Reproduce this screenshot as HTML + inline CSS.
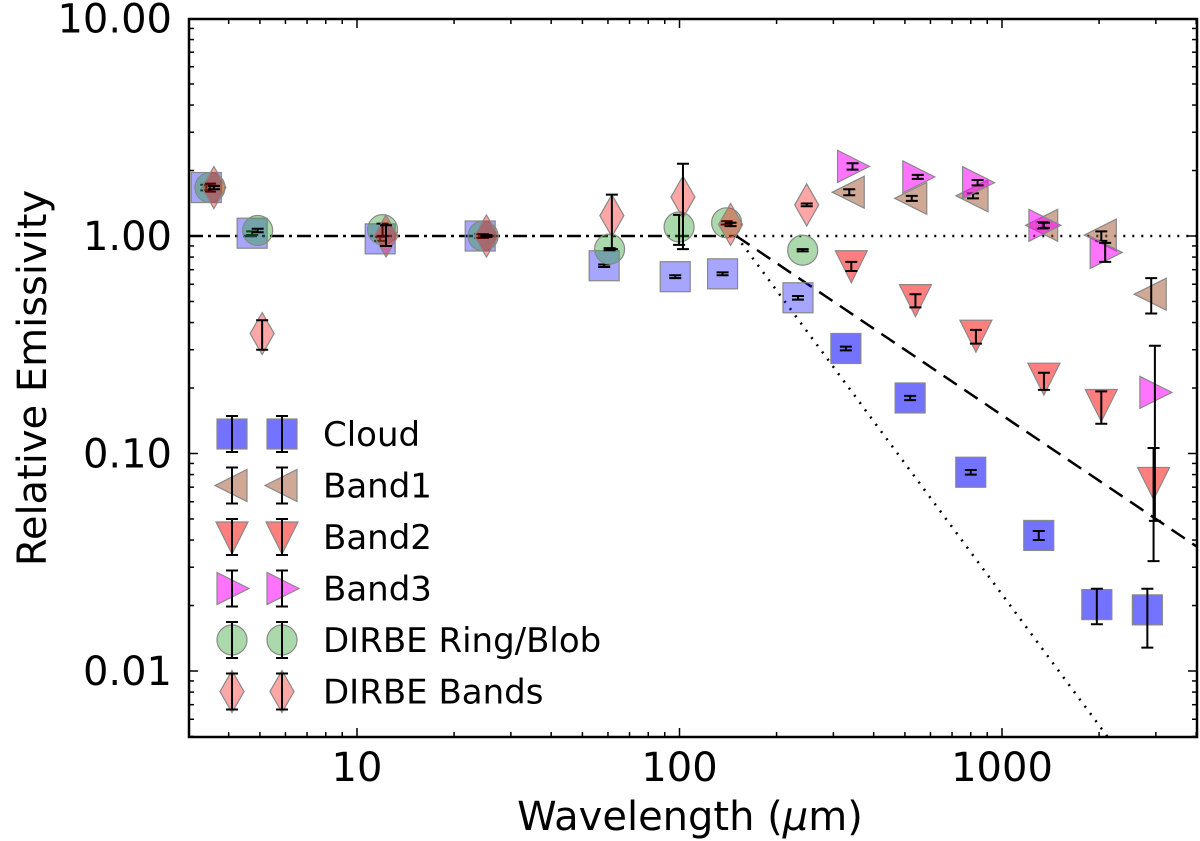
<!DOCTYPE html>
<html><head><meta charset="utf-8"><style>
body{margin:0;background:#fff;}
svg{display:block;font-family:"DejaVu Sans","Liberation Sans",sans-serif;}
</style></head><body>
<svg id="c" width="1200" height="841" xmlns="http://www.w3.org/2000/svg"></svg>
<script>
// ---- data ----
const cloudX=[3.41,4.73,11.8,24.1,58.4,97,136,233,328,519,800,1300,1968,2823];
const cloudY=[1.67,1.03,0.97,1.00,0.73,0.65,0.67,0.52,0.304,0.180,0.082,0.042,0.0202,0.0191];
const cloudLo=[1.62,1.01,0.95,0.98,0.72,0.64,0.66,0.51,0.298,0.176,0.080,0.040,0.0164,0.0128];
const cloudHi=[1.72,1.05,0.99,1.02,0.74,0.66,0.68,0.53,0.310,0.184,0.084,0.044,0.0239,0.0239];
const band1X=[336,525,813,1337,2032,2902];
const band1Y=[1.59,1.49,1.53,1.12,1.01,0.54];
const band1Lo=[1.54,1.45,1.49,1.08,0.95,0.44];
const band1Hi=[1.64,1.53,1.57,1.16,1.05,0.64];
const band2X=[341,539,830,1349,2032,2951];
const band2Y=[0.73,0.51,0.35,0.222,0.168,0.0736];
const band2Lo=[0.69,0.47,0.32,0.196,0.137,0.032];
const band2Hi=[0.76,0.54,0.37,0.235,0.193,0.106];
const band3X=[344,548,840,1349,2089,2979];
const band3Y=[2.09,1.87,1.76,1.12,0.84,0.191];
const band3Lo=[2.02,1.83,1.71,1.09,0.76,0.049];
const band3Hi=[2.16,1.91,1.81,1.15,0.93,0.313];
const ringX=[3.50,4.92,12.0,24.6,60.7,99.7,140,241];
const ringY=[1.67,1.06,1.07,1.00,0.87,1.10,1.15,0.86];
const ringLo=[1.60,1.04,1.00,0.98,0.86,0.91,1.13,0.85];
const ringHi=[1.74,1.08,1.14,1.02,0.88,1.25,1.17,0.87];
const bandsX=[3.60,5.08,12.3,25.2,61.7,102.5,144,248];
const bandsY=[1.67,0.356,1.00,1.00,1.24,1.51,1.13,1.39];
const bandsLo=[1.64,0.30,0.90,0.99,0.87,0.87,1.11,1.37];
const bandsHi=[1.70,0.41,1.12,1.01,1.55,2.15,1.15,1.41];
const xTicks=[10,100,1000];
const yTicks=[0.01,0.1,1,10];
const yTickLabels=["0.01","0.10","1.00","10.00"];
const breakX=150, dashSlope=-1, dotSlope=-2;
// ---- scales ----
const L=189,R=1197,T=19,B=737;
const X=v=>357+(Math.log10(v)-1)*322.5;
const Y=v=>236-Math.log10(v)*217.5;
const xMax=Math.pow(10,1+(R-357)/322.5);
const svg=document.getElementById('c');
const NS='http://www.w3.org/2000/svg';
function el(tag,attrs,parent){const e=document.createElementNS(NS,tag);for(const k in attrs)e.setAttribute(k,attrs[k]);(parent||svg).appendChild(e);return e;}
const clip=el('clipPath',{id:'cp'});el('rect',{x:L,y:T,width:R-L,height:B-T},clip);
const plot=el('g',{'clip-path':'url(#cp)'});


let ln=el('line',{x1:L,y1:Y(1),x2:X(breakX),y2:Y(1),stroke:'#000','stroke-width':2.5,'stroke-dasharray':'14 5 3 5'},plot);


ln=el('line',{x1:X(breakX),y1:Y(1),x2:R,y2:Y(1),stroke:'#000','stroke-width':2.5,'stroke-dasharray':'2 7'},plot);


function powerLine(slope,dash,name){const x2=xMax;const y2=Math.pow(x2/breakX,slope);
 const l=el('line',{x1:X(breakX),y1:Y(1),x2:X(x2),y2:Y(y2),stroke:'#000','stroke-width':2.5,'stroke-dasharray':dash},plot);
 
 }
powerLine(dashSlope,'16 9','beta1-dashed-line');
powerLine(dotSlope,'2 7','beta2-dotted-line');
function marker(g,type,cx,cy,fill,op){
 const s={fill:fill,'fill-opacity':op,stroke:'#888','stroke-width':1.2};
 if(type==='sq')return el('rect',Object.assign({x:cx-15,y:cy-15,width:30,height:30},s),g);
 if(type==='ci')return el('circle',Object.assign({cx:cx,cy:cy,r:15},s),g);
 let p;
 if(type==='lt')p=[[cx-17,cy],[cx+15,cy-16],[cx+15,cy+16]];
 if(type==='dn')p=[[cx-16,cy-15],[cx+16,cy-15],[cx,cy+17]];
 if(type==='rt')p=[[cx+17,cy],[cx-15,cy-16],[cx-15,cy+16]];
 if(type==='di')p=[[cx,cy-21],[cx+12,cy],[cx,cy+21],[cx-12,cy]];
 return el('polygon',Object.assign({points:p.map(a=>a.join(',')).join(' ')},s),g);
}
function series(name,xs,ys,lo,hi,type,fill,op,opFn){
 const g=el('g',{},plot);
 
 
 xs.forEach((x,i)=>{const cx=X(x),cy=Y(ys[i]);
  const m=marker(g,type,cx,cy,fill,opFn?opFn(i):op);
  
  
  const eb=el('path',{d:`M${cx},${Y(hi[i])}V${Y(lo[i])}M${cx-6},${Y(hi[i])}h12M${cx-6},${Y(lo[i])}h12`,stroke:'#000','stroke-width':2,fill:'none'},g);
  
  
 });
}
series('cloud',cloudX,cloudY,cloudLo,cloudHi,'sq','#0000ff',0.35,i=>cloudX[i]>300?0.55:0.35);
series('dirbe-ring-blob',ringX,ringY,ringLo,ringHi,'ci','#2ca02c',0.4);
series('band1',band1X,band1Y,band1Lo,band1Hi,'lt','#a0522d',0.5);
series('band2',band2X,band2Y,band2Lo,band2Hi,'dn','#ff0000',0.5);
series('band3',band3X,band3Y,band3Lo,band3Hi,'rt','#ff00ff',0.55);
series('dirbe-bands',bandsX,bandsY,bandsLo,bandsHi,'di','#ff0000',0.35);
let fr=el('rect',{x:L,y:T,width:R-L,height:B-T,fill:'none',stroke:'#000','stroke-width':2.5});


const tg=el('g',{stroke:'#000','stroke-width':1.5});


for(let d=-3;d<=1;d++)for(let k=1;k<10;k++){const v=k*Math.pow(10,d);const y=Y(v);if(y<T||y>B)continue;const len=k===1?9:5;
 el('line',{x1:L,y1:y,x2:L+len,y2:y},tg);el('line',{x1:R,y1:y,x2:R-len,y2:y},tg);}
for(let d=0;d<=3;d++)for(let k=1;k<10;k++){const v=k*Math.pow(10,d);const x=X(v);if(x<L||x>R)continue;const len=k===1?9:5;
 el('line',{x1:x,y1:B,x2:x,y2:B-len},tg);el('line',{x1:x,y1:T,x2:x,y2:T+len},tg);}
yTicks.forEach((v,i)=>{const t=el('text',{x:172,y:Y(v)+14,'text-anchor':'end','font-size':40});t.textContent=yTickLabels[i];
 
 });
xTicks.forEach(v=>{const t=el('text',{x:X(v),y:781,'text-anchor':'middle','font-size':40});t.textContent=String(v);
 
 });
let xt=el('text',{x:690,y:830,'text-anchor':'middle','font-size':40});xt.innerHTML='Wavelength (<tspan font-style="italic">μ</tspan>m)';


let yt=el('text',{x:0,y:0,'text-anchor':'middle','font-size':40,transform:'translate(46,378) rotate(-90)'});yt.textContent='Relative Emissivity';


const legNames=['Cloud','Band1','Band2','Band3','DIRBE Ring/Blob','DIRBE Bands'];
const legSpec=[['sq','#0000ff',0.55],['lt','#a0522d',0.5],['dn','#ff0000',0.5],['rt','#ff00ff',0.55],['ci','#2ca02c',0.4],['di','#ff0000',0.35]];
const lg=el('g',{});


legNames.forEach((n,i)=>{const y=434+i*51.5;const eg=el('g',{},lg);
 
 
 [232,282].forEach(x=>{marker(eg,legSpec[i][0],x,y,legSpec[i][1],legSpec[i][2]);
  el('path',{d:`M${x},${y-18}V${y+18}M${x-6},${y-18}h12M${x-6},${y+18}h12`,stroke:'#000','stroke-width':2},eg);});
 const t=el('text',{x:323,y:y+12,'font-size':34},eg);t.textContent=n;});
</script>
</body></html>
